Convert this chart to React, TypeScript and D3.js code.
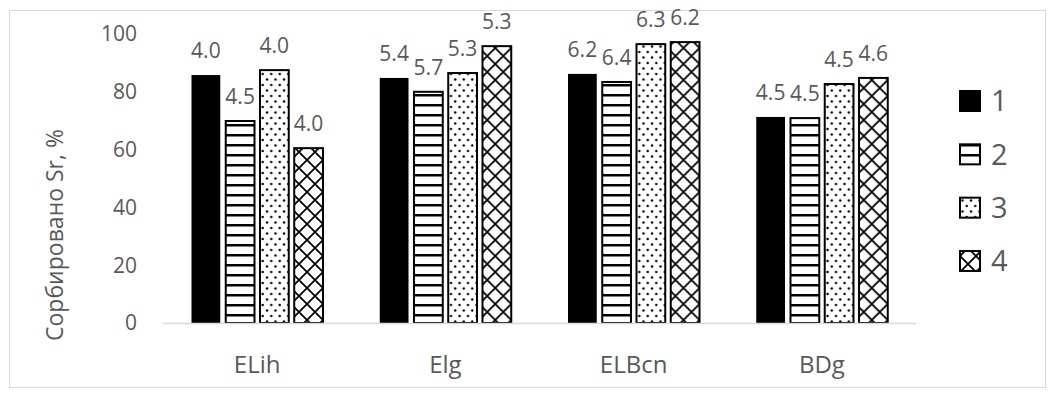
import React from "react";
import * as d3 from "d3";

const categories = ["ELih", "Elg", "ELBcn", "BDg"];
const seriesNames = ["1", "2", "3", "4"];
const series1 = [85.8, 84.8, 86.2, 71.3];
const series2 = [69.9, 80.0, 83.4, 70.9];
const series3 = [87.5, 86.5, 96.5, 82.7];
const series4 = [60.5, 95.8, 97.2, 84.8];
const labels1 = ["4.0", "5.4", "6.2", "4.5"];
const labels2 = ["4.5", "5.7", "6.4", "4.5"];
const labels3 = ["4.0", "5.3", "6.3", "4.5"];
const labels4 = ["4.0", "5.3", "6.2", "4.6"];
const yTicks = [0, 20, 40, 60, 80, 100];
const yTitle = "Сорбировано Sr, %";

const seriesValues = [series1, series2, series3, series4];
const seriesLabels = [labels1, labels2, labels3, labels4];

const W = 1055;
const H = 396;
const plot = { left: 163, right: 916, top: 34, bottom: 323 };
const FONT = "'Open Sans', 'Liberation Sans', sans-serif";
const TXT = "#595959";
const fills = ["#000", "url(#pHorz)", "url(#pDots)", "url(#pCross)"];

export default function App() {
  const x0 = d3.scaleBand<string>().domain(categories).range([plot.left, plot.right]).padding(0);
  const x1 = d3
    .scaleBand<string>()
    .domain(seriesNames)
    .range([28.5, 160])
    .paddingInner(0.16)
    .paddingOuter(0);
  const y = d3.scaleLinear().domain([0, 100]).range([plot.bottom, plot.top]);
  const legendY = d3.scalePoint<string>().domain(seriesNames).range([101, 261]);

  return (
    <svg
      width={W}
      height={H}
      style={{ position: "absolute", left: 0, top: 0, background: "#fff" }}
      fontFamily={FONT}
    >
      <defs>
        <pattern id="pHorz" width="10" height="10" patternUnits="userSpaceOnUse">
          <rect width="10" height="10" fill="#fff" />
          <rect y="4" width="10" height="2.5" fill="#000" />
        </pattern>
        <pattern id="pDots" width="8.5" height="11" patternUnits="userSpaceOnUse">
          <rect width="8.5" height="11" fill="#fff" />
          <circle cx="2" cy="2.5" r="1.2" fill="#000" />
          <circle cx="6.25" cy="8" r="1.2" fill="#000" />
        </pattern>
        <pattern id="pCross" width="16" height="16" patternUnits="userSpaceOnUse">
          <rect width="16" height="16" fill="#fff" />
          <path d="M0,0 L16,16 M16,0 L0,16 M-2,14 L2,18 M14,-2 L18,2 M-2,2 L2,-2 M14,18 L18,14" stroke="#000" strokeWidth="1.8" />
        </pattern>
      </defs>

      <rect x={9.5} y={10.5} width={1036} height={377} fill="none" stroke="#d9d9d9" strokeWidth={1} />

      {yTicks.map((t) => (
        <text
          key={t}
          x={137}
          y={y(t)}
          dy="0.35em"
          textAnchor="end"
          fontSize={21}
          fill={TXT}
        >
          {t}
        </text>
      ))}

      <text
        transform={`translate(63, 235) rotate(-90)`}
        textAnchor="middle"
        fontSize={23}
        fill={TXT}
      >
        {yTitle}
      </text>

      {categories.map((c, ci) => (
        <g key={c} transform={`translate(${x0(c)},0)`}>
          {seriesNames.map((s, si) => {
            const v = seriesValues[si][ci];
            const bx = x1(s)!;
            const bw = x1.bandwidth();
            return (
              <g key={s}>
                <rect
                  x={bx}
                  y={y(v)}
                  width={bw}
                  height={plot.bottom - y(v)}
                  fill={fills[si]}
                  stroke={si === 0 ? "none" : "#000"}
                  strokeWidth={2}
                />
                <text
                  x={bx + bw / 2}
                  y={y(v) - 17}
                  textAnchor="middle"
                  fontSize={21}
                  fill={TXT}
                >
                  {seriesLabels[si][ci]}
                </text>
              </g>
            );
          })}
          <text
            x={x0.bandwidth() / 2}
            y={373}
            textAnchor="middle"
            fontSize={24}
            fill={TXT}
          >
            {c}
          </text>
        </g>
      ))}

      <line
        x1={plot.left}
        x2={plot.right}
        y1={plot.bottom + 0.5}
        y2={plot.bottom + 0.5}
        stroke="#d9d9d9"
        strokeWidth={1.5}
      />

      {seriesNames.map((s, si) => {
        const cy = legendY(s)!;
        return (
          <g key={s}>
            <rect
              x={960}
              y={cy - 10}
              width={20}
              height={20}
              fill={fills[si]}
              stroke="#000"
              strokeWidth={2}
            />
            <text x={991} y={cy} dy="0.36em" fontSize={29} fill={TXT}>
              {s}
            </text>
          </g>
        );
      })}
    </svg>
  );
}
